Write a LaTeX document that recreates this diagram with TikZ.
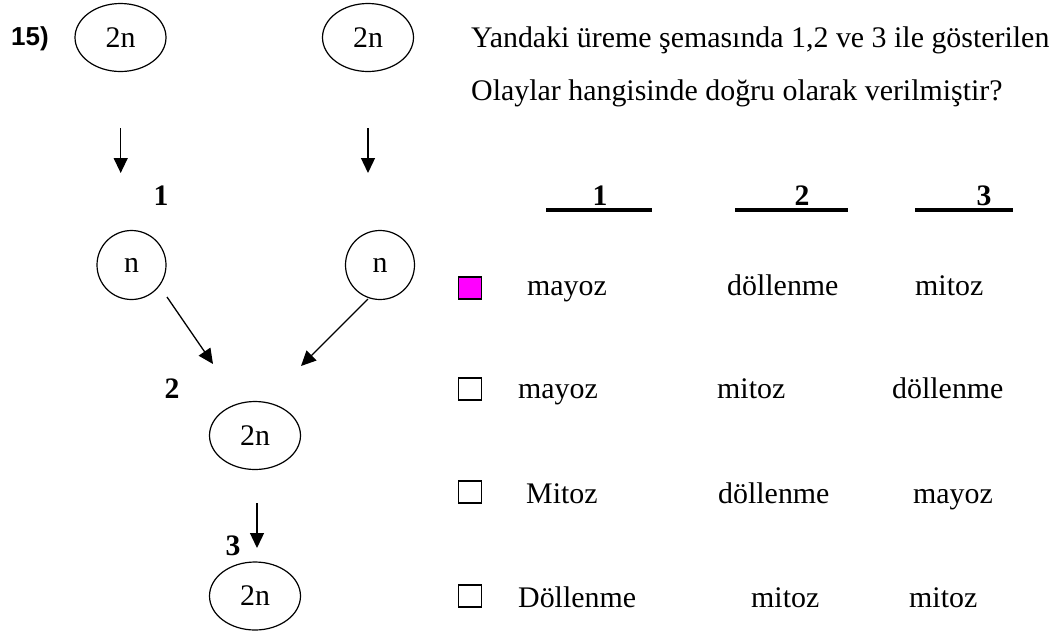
\documentclass[tikz,border=0pt]{standalone}
\usepackage{fontspec}
\setmainfont{Liberation Serif}
\newfontfamily\arialfont{Liberation Sans}
\usetikzlibrary{shapes.geometric,arrows.meta}

\tikzset{
  hucre/.style={draw,ellipse,line width=1.2pt,inner sep=0pt,minimum width=91pt,minimum height=68pt},
  gamet/.style={draw,circle,line width=1.2pt,inner sep=0pt,minimum size=69pt},
  ok/.style={line width=1.3pt,-{Triangle[length=15pt,width=14pt]}},
  kutu/.style={draw,line width=1.4pt,minimum width=23pt,minimum height=22pt,inner sep=0pt},
  yazi/.style={anchor=base west,inner sep=0pt},
  rakam/.style={anchor=base,inner sep=0pt,font=\bfseries\fontsize{29.7}{36}\selectfont},
}

\begin{document}
\begin{tikzpicture}[x=1pt,y=-1pt,font=\fontsize{29.9}{36}\selectfont]
  \useasboundingbox (0,0) rectangle (1060,630);

  % Soru numarasi
  \node[anchor=base east,inner sep=0pt,font=\arialfont\bfseries\fontsize{26}{30}\selectfont] (no) at (49,45) {15)};

  % Hucreler
  \node[hucre] (ana1) at (120.5,37.5) {2n};
  \node[hucre] (ana2) at (368,37.5) {2n};
  \node[gamet] (g1) at (131.5,265) {n};
  \node[gamet] (g2) at (380,265) {n};
  \node[hucre] (zigot) at (255,435.5) {2n};
  \node[hucre] (yavru) at (255,596) {2n};

  % Oklar
  \coordinate (o1a) at (120.7,128); \coordinate (o1b) at (120.7,173);
  \coordinate (o2a) at (368,128);   \coordinate (o2b) at (368,173);
  \coordinate (o3a) at (167,297);   \coordinate (o3b) at (213,364);
  \coordinate (o4a) at (368,299);   \coordinate (o4b) at (301,366);
  \coordinate (o5a) at (257,503);   \coordinate (o5b) at (257,548);
  \draw[ok] (o1a) -- (o1b);
  \draw[ok] (o2a) -- (o2b);
  \draw[ok] (o3a) -- (o3b);
  \draw[ok] (o4a) -- (o4b);
  \draw[ok] (o5a) -- (o5b);

  \node[rakam] (r1) at (161,205) {1};
  \node[rakam] (r2) at (172,398) {2};
  \node[rakam] (r3) at (233,555) {3};

  % Soru metni
  \node[yazi] (s1) at (471,47) {Yandaki üreme şemasında 1,2 ve 3 ile gösterilen};
  \node[yazi] (s2) at (471,100) {Olaylar hangisinde doğru olarak verilmiştir?};

  % Tablo basliklari
  \node[rakam] (b1) at (600,205) {1};
  \node[rakam] (b2) at (802,205) {2};
  \node[rakam] (b3) at (984,205) {3};
  \draw[line width=3.6pt] (546,210) -- (652,210);
  \draw[line width=3.6pt] (735,210) -- (848,210);
  \draw[line width=3.6pt] (915,210) -- (1013,210);

  % Secenekler
  \node[kutu,fill={rgb,255:red,255;green,0;blue,255}] (k1) at (470,288) {};
  \node[kutu] (k2) at (470,389) {};
  \node[kutu] (k3) at (470,492) {};
  \node[kutu] (k4) at (470,596) {};

  \node[yazi] (a1) at (527,295) {mayoz};
  \node[yazi] (a2) at (727,295) {döllenme};
  \node[yazi] (a3) at (915,295) {mitoz};

  \node[yazi] (b1x) at (518,398) {mayoz};
  \node[yazi] (b2x) at (717,398) {mitoz};
  \node[yazi] (b3x) at (892,398) {döllenme};

  \node[yazi] (c1) at (526,503) {Mitoz};
  \node[yazi] (c2) at (718,503) {döllenme};
  \node[yazi] (c3) at (913,503) {mayoz};

  \node[yazi] (d1) at (518,607) {Döllenme};
  \node[yazi] (d2) at (751,607) {mitoz};
  \node[yazi] (d3) at (909,607) {mitoz};
\end{tikzpicture}
\end{document}
